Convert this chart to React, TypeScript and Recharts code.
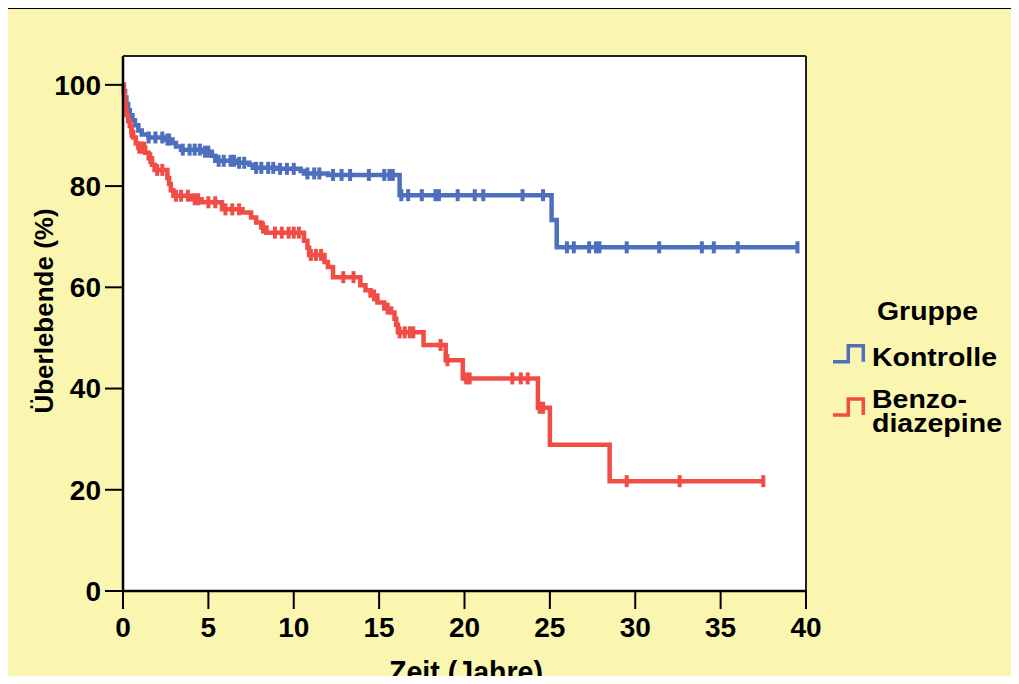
import { ComposedChart, Line, Scatter, XAxis, YAxis, CartesianGrid, ReferenceLine, Label } from 'recharts';

// Kaplan-Meier steps: [time in years, survival in %]
const kontrolleSteps: [number, number][] = [
  [0, 100], [0.05, 98.8], [0.12, 97.5], [0.2, 96.2], [0.3, 95], [0.4, 94], [0.55, 93], [0.7, 92],
  [0.9, 91], [1.1, 90.2], [1.5, 89.6], [2.5, 89.2], [2.9, 88.5], [3.1, 87.8], [3.4, 87.2], [4.6, 86.8],
  [5.2, 86.0], [5.4, 85.0], [6.6, 84.6], [7.4, 84.2], [7.6, 83.6], [9.0, 83.4], [10.4, 83.0], [10.6, 82.5],
  [12.0, 82.2], [16.2, 78.2], [25.1, 73.3], [25.4, 67.9], [39.5, 67.9],
];
const kontrolleCensored = [
  1.5, 1.9, 2.3, 2.6, 2.7, 3.5, 3.9, 4.2, 4.5, 4.8, 5.0, 5.6, 5.9, 6.3, 6.5, 6.8, 7.1, 7.8, 8.1, 8.5, 8.8,
  9.2, 9.6, 10.0, 10.8, 11.2, 11.5, 12.3, 12.8, 13.3, 14.4, 15.3, 15.6, 15.8, 16.3, 16.7, 17.5, 18.3,
  18.5, 19.6, 20.6, 21.1, 23.4, 24.6, 26.0, 26.4, 27.3, 27.7, 27.9, 29.5, 31.4, 33.9, 34.6, 36.0, 39.5,
];

const benzoSteps: [number, number][] = [
  [0, 100], [0.05, 98.2], [0.1, 96.8], [0.15, 95.4], [0.2, 94], [0.3, 92.8], [0.4, 91.8], [0.5, 90.7],
  [0.6, 89.6], [0.75, 88.4], [0.9, 87.6], [1.3, 86.6], [1.5, 85.5], [1.7, 84.2], [1.85, 83.2], [2.6, 81.6],
  [2.7, 80.4], [2.8, 79.2], [2.95, 78.1], [4.0, 77.4], [4.6, 76.8], [5.8, 75.4], [7.0, 74.8], [7.5, 73.8],
  [7.8, 72.8], [8.1, 71.8], [8.4, 70.8], [10.6, 69.2], [10.8, 67.8], [10.9, 66.4], [11.8, 65.0],
  [12.0, 64.0], [12.3, 62.0], [13.9, 60.4], [14.2, 59.4], [14.5, 58.4], [14.9, 57.0], [15.3, 55.8],
  [15.7, 55.0], [15.9, 53.8], [16.0, 52.6], [16.1, 51.1], [17.6, 48.6], [18.9, 45.6], [19.9, 42.0],
  [24.3, 36.2], [25.0, 28.9], [28.5, 21.7], [37.5, 21.7],
];
const benzoCensored = [
  0.5, 0.95, 1.1, 1.25, 1.6, 2.0, 2.3, 3.1, 3.4, 3.8, 4.2, 4.4, 5.0, 5.4, 6.0, 6.4, 6.8, 8.2, 8.9, 9.3,
  9.7, 10.0, 10.3, 11.0, 11.3, 11.6, 12.9, 13.5, 14.7, 15.5, 16.2, 16.5, 16.8, 17.0, 18.6, 19.0, 20.1,
  20.3, 22.8, 23.3, 23.7, 24.4, 24.6, 29.5, 32.6, 37.5,
];

const xTicks = [0, 5, 10, 15, 20, 25, 30, 35, 40];
const yTicks = [0, 20, 40, 60, 80, 100];

const BLUE = '#4E6EBE';
const RED = '#F24C46';
const YELLOW = '#FAF6B0';
const FONT = '"Liberation Sans", Arial, sans-serif';

const toPoints = (steps: [number, number][]) => steps.map(([t, s]) => ({ t, s }));
const stepAt = (steps: [number, number][], t: number) => {
  let s = steps[0][1];
  for (const [st, sv] of steps) if (st <= t) s = sv;
  return s;
};
const toCensor = (steps: [number, number][], times: number[]) => times.map((t) => ({ t, s: stepAt(steps, t) }));

const kontrolleData = toPoints(kontrolleSteps);
const benzoData = toPoints(benzoSteps);
const kontrolleMarks = toCensor(kontrolleSteps, kontrolleCensored);
const benzoMarks = toCensor(benzoSteps, benzoCensored);

const censorShape = (color: string) => (props: any) => (
  <rect x={props.cx - 2} y={props.cy - 6} width={4} height={12} fill={color} />
);

const legendItems = [
  { color: BLUE, lines: ['Kontrolle'], widths: [125] },
  { color: RED, lines: ['Benzo-', 'diazepine'], widths: [95, 130] },
];

const LegendBox = () => (
  <svg width={199} height={170} style={{ display: 'block' }}>
    <text x={57} y={30} textLength={101} lengthAdjust="spacingAndGlyphs" fontFamily={FONT} fontWeight="bold" fontSize={25} fill="#000">
      Gruppe
    </text>
    {legendItems.map((item, i) => {
      const low = i === 0 ? 71.7 : 125;
      const base = i === 0 ? 76 : 118;
      return (
        <g key={i}>
          <path d={`M13,${low} H28.3 V${low - 16} H43.3 V${low}`} stroke={item.color} strokeWidth={3.5} fill="none" />
          {item.lines.map((ln, j) => (
            <text key={j} x={52} y={base + j * 24} textLength={item.widths[j]} lengthAdjust="spacingAndGlyphs"
              fontFamily={FONT} fontWeight="bold" fontSize={25} fill="#000">
              {ln}
            </text>
          ))}
        </g>
      );
    })}
  </svg>
);

const tickStyle = { fill: '#000', fontSize: 28, fontWeight: 'bold', fontFamily: FONT };

export default function App() {
  return (
    <div style={{ position: 'relative', width: 1019, height: 684, margin: -8, overflow: 'hidden', background: '#fff' }}>
      <div style={{ position: 'absolute', left: 7, top: 8, width: 1100, height: 800, border: '1.5px solid #000', background: YELLOW }} />
      <div style={{ position: 'absolute', left: 0, top: 0 }}>
        <ComposedChart width={1019} height={684} margin={{ top: 56, right: 213, bottom: 0, left: 0 }}>
          <CartesianGrid fill="#fff" horizontal={false} vertical={false} />
          <XAxis type="number" dataKey="t" domain={[0, 40]} ticks={xTicks} interval={0} height={93}
            tick={tickStyle} tickSize={18} tickMargin={8}
            axisLine={{ stroke: '#000', strokeWidth: 2.5 }} tickLine={{ stroke: '#000', strokeWidth: 2 }}>
            <Label content={() => (
              <text x={466} y={683} textAnchor="middle" textLength={154} lengthAdjust="spacingAndGlyphs"
                fontFamily={FONT} fontWeight="bold" fontSize={31} fill="#000">Zeit (Jahre)</text>
            )} />
          </XAxis>
          <YAxis type="number" dataKey="s" domain={[0, 105.7]} ticks={yTicks} interval={0} width={123}
            tick={tickStyle} tickSize={18} tickMargin={4}
            axisLine={{ stroke: '#000', strokeWidth: 2.5 }} tickLine={{ stroke: '#000', strokeWidth: 2 }}>
            <Label content={() => (
              <text x={53} y={311} transform="rotate(-90 53 311)" textAnchor="middle" fontFamily={FONT} fontWeight="bold" fontSize={26} fill="#000">Überlebende (%)</text>
            )} />
          </YAxis>
          <ReferenceLine y={105.7} stroke="#222" strokeWidth={2} />
          <ReferenceLine x={40} stroke="#222" strokeWidth={2} />
          <Line data={kontrolleData} dataKey="s" name="Kontrolle" type="stepAfter" stroke={BLUE} strokeWidth={4.5}
            dot={false} activeDot={false} isAnimationActive={false} />
          <Line data={benzoData} dataKey="s" name="Benzodiazepine" type="stepAfter" stroke={RED} strokeWidth={4.5}
            dot={false} activeDot={false} isAnimationActive={false} />
          <Scatter data={kontrolleMarks} dataKey="s" shape={censorShape(BLUE)} legendType="none" isAnimationActive={false} />
          <Scatter data={benzoMarks} dataKey="s" shape={censorShape(RED)} legendType="none" isAnimationActive={false} />
        </ComposedChart>
      </div>
      <div style={{ position: 'absolute', left: 820, top: 290 }}>
        <LegendBox />
      </div>
    </div>
  );
}
